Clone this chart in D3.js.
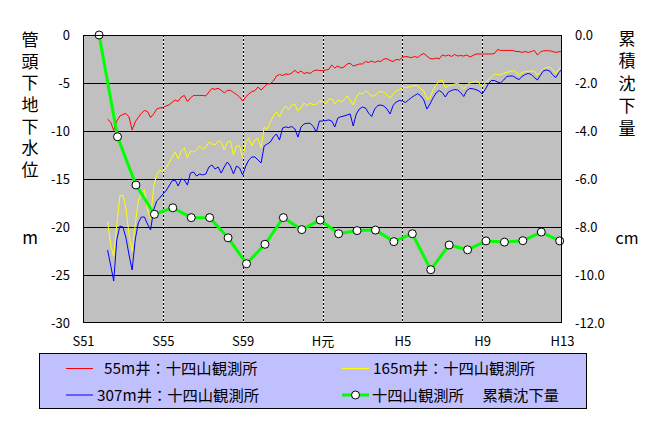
<!DOCTYPE html>
<html><head><meta charset="utf-8">
<script src="https://cdn.jsdelivr.net/npm/d3@7"></script>
<style>
html,body{margin:0;padding:0;background:#fff;}
svg text{font-family:"Noto Sans CJK JP","Noto Sans",sans-serif;}
</style></head>
<body><svg id="c" width="657" height="429"></svg>
<script>
// ---- data ----
const xTickLabels = ["S51","S55","S59","H元","H5","H9","H13"];
const lineStartMonth = 16;   // months from start of S51 axis
const lineStepMonths = 2;
const well55 = [-8.78,-9.06,-9.95,-8.96,-8.44,-8.28,-8.18,-8.54,-9.90,-9.06,
-8.59,-8.16,-7.86,-7.97,-8.59,-8.23,-7.71,-7.60,-7.55,-7.40,
-7.29,-7.03,-6.77,-6.91,-6.46,-6.30,-6.93,-6.56,-6.30,-6.30,
-6.30,-6.30,-6.35,-5.94,-5.57,-5.66,-5.55,-5.76,-6.04,-5.78,
-5.76,-5.99,-6.20,-6.46,-6.88,-6.46,-6.15,-5.89,-5.80,-5.42,
-5.73,-5.42,-5.10,-5.08,-4.79,-4.27,-4.11,-4.22,-4.06,-4.11,
-3.96,-3.68,-3.96,-3.75,-4.01,-3.91,-4.01,-3.75,-3.65,-3.70,
-3.70,-3.65,-3.59,-3.13,-3.44,-3.23,-3.44,-3.33,-3.02,-2.95,
-3.23,-3.13,-3.02,-3.02,-2.76,-2.86,-2.71,-2.86,-2.71,-2.76,
-2.50,-2.47,-2.66,-2.76,-2.55,-2.60,-2.34,-2.24,-2.29,-2.36,
-2.24,-2.34,-2.08,-1.93,-2.19,-2.45,-2.50,-2.40,-2.50,-2.08,
-2.19,-2.08,-2.24,-2.03,-2.19,-2.14,-2.19,-2.08,-2.29,-2.14,
-1.98,-1.98,-1.98,-1.98,-1.98,-1.98,-1.93,-1.51,-1.61,-1.61,
-1.61,-1.61,-1.61,-1.72,-1.72,-1.82,-1.72,-1.82,-1.72,-1.61,
-2.08,-1.77,-1.64,-1.64,-1.64,-1.72,-1.82,-1.74,-1.74];
const well165 = [-19.38,-21.88,-23.02,-19.79,-16.77,-16.67,-18.02,-20.83,-22.60,-19.79,
-17.29,-16.46,-16.15,-18.23,-19.17,-15.83,-14.58,-14.06,-14.27,-13.85,
-13.33,-12.71,-12.19,-12.92,-12.08,-11.77,-12.81,-12.08,-12.19,-11.98,
-11.56,-11.88,-11.67,-11.15,-11.35,-11.46,-11.04,-11.15,-11.98,-11.15,
-11.04,-12.50,-11.56,-11.56,-12.81,-11.15,-10.73,-11.56,-10.94,-10.78,
-11.77,-9.58,-9.79,-9.06,-8.44,-8.02,-8.54,-7.81,-7.40,-7.81,
-7.29,-7.19,-7.92,-7.60,-7.08,-7.40,-7.08,-7.29,-7.19,-6.88,
-6.88,-7.19,-6.72,-6.61,-7.19,-6.77,-6.98,-6.77,-6.35,-6.77,
-7.29,-6.46,-6.04,-6.15,-5.83,-6.04,-6.35,-6.35,-5.99,-5.89,
-5.94,-6.25,-6.56,-6.15,-5.83,-5.68,-5.52,-5.47,-5.42,-5.36,
-5.24,-5.31,-5.63,-5.83,-6.67,-6.56,-5.73,-5.21,-4.79,-4.69,
-5.47,-5.26,-5.21,-5.10,-5.03,-5.21,-5.63,-5.21,-5.00,-4.90,
-4.79,-5.00,-5.36,-5.00,-4.64,-4.38,-4.06,-4.11,-4.17,-3.96,
-3.91,-3.80,-3.70,-3.85,-4.22,-3.91,-3.82,-3.82,-3.75,-3.75,
-4.22,-3.82,-3.49,-3.39,-3.33,-3.59,-4.01,-3.54,-3.23];
const well307 = [-22.40,-23.96,-25.63,-21.35,-19.90,-20.00,-21.15,-22.92,-24.48,-21.35,
-19.58,-18.96,-18.96,-19.69,-20.31,-18.23,-17.29,-16.98,-16.56,-16.25,
-15.73,-15.21,-15.10,-15.73,-15.00,-15.10,-15.63,-14.38,-14.27,-14.69,
-14.48,-14.58,-14.48,-13.75,-13.54,-13.96,-13.75,-14.38,-13.75,-13.23,
-13.65,-14.48,-13.65,-13.85,-14.58,-13.65,-13.02,-12.71,-12.71,-13.02,
-13.33,-11.56,-11.35,-11.15,-10.63,-10.31,-10.94,-9.69,-9.58,-9.64,
-9.53,-9.79,-10.63,-9.58,-9.27,-9.20,-9.20,-9.53,-10.10,-8.96,
-8.96,-8.91,-8.85,-8.96,-9.58,-8.65,-8.51,-8.44,-8.33,-8.23,
-9.48,-8.23,-7.71,-7.50,-7.60,-8.13,-8.49,-7.71,-7.34,-7.29,
-7.40,-7.71,-8.23,-7.34,-6.98,-6.82,-6.88,-7.03,-6.77,-6.51,
-6.30,-6.11,-6.35,-6.77,-7.71,-7.19,-6.56,-6.04,-5.78,-5.99,
-6.46,-5.94,-5.78,-5.68,-5.73,-5.99,-6.41,-5.78,-5.57,-5.60,
-5.70,-5.83,-6.15,-5.68,-5.10,-4.74,-4.74,-4.90,-5.00,-4.69,
-4.32,-4.27,-4.27,-4.48,-4.64,-4.32,-4.11,-4.01,-4.11,-4.43,
-4.69,-4.17,-3.70,-3.65,-3.75,-4.17,-4.43,-3.91,-3.54];
const sinkYears = d3.range(1976, 2002);
const sinkCm = [0,-4.24,-6.25,-7.47,-7.20,-7.61,-7.61,-8.45,-9.53,-8.72,-7.61,-8.11,-7.71,
-8.28,-8.15,-8.13,-8.61,-8.28,-9.78,-8.75,-8.95,-8.58,-8.63,-8.57,-8.21,-8.58];
const leftTicks = [0,-5,-10,-15,-20,-25,-30];
const rightTicks = [0,-2,-4,-6,-8,-10,-12];
const legendLabels = ["55m井：十四山観測所","165m井：十四山観測所","307m井：十四山観測所","十四山観測所　 累積沈下量"];

// ---- layout ----
const L=83, R=562, T=35, B=323;
const svg = d3.select("#c");
const x = d3.scaleLinear().domain([0, 312]).range([L, R]);
const yL = d3.scaleLinear().domain([-30, 0]).range([B, T]);
const yR = d3.scaleLinear().domain([-12, 0]).range([B, T]);
const xTickVals = d3.range(0, 313, 52);

svg.append("rect").attr("x",L).attr("y",T).attr("width",R-L).attr("height",B-T).attr("fill","#c0c0c0");

// horizontal gridlines
svg.append("g").selectAll("line").data(leftTicks.slice(1,-1)).join("line")
  .attr("x1",L).attr("x2",R).attr("y1",d=>Math.round(yL(d))+0.5).attr("y2",d=>Math.round(yL(d))+0.5)
  .attr("stroke","#000").attr("stroke-width",1);
// vertical dotted lines
const vg = svg.append("g");
const inner = xTickVals.slice(1,-1);
vg.selectAll("line.w").data(inner).join("line").attr("class","w")
  .attr("x1",d=>Math.round(x(d))+0.5).attr("x2",d=>Math.round(x(d))+0.5).attr("y1",T).attr("y2",B)
  .attr("stroke","#fff").attr("stroke-width",1);
vg.selectAll("line.b").data(inner).join("line").attr("class","b")
  .attr("x1",d=>Math.round(x(d))+0.5).attr("x2",d=>Math.round(x(d))+0.5).attr("y1",T).attr("y2",B)
  .attr("stroke","#000").attr("stroke-width",1).attr("stroke-dasharray","2,2");

// water level lines
const lineGen = d3.line().x((d,i)=>x(lineStartMonth + i*lineStepMonths)).y(d=>yL(d));
[[well55,"#ff0000"],[well165,"#ffff00"],[well307,"#0000ff"]].forEach(([arr,c])=>{
  svg.append("path").datum(arr).attr("d",lineGen).attr("fill","none").attr("stroke",c).attr("stroke-width",1);
});

// subsidence line
const sx = yr => x((yr-1976)*12 + 10.5);
svg.append("path").datum(sinkCm).attr("d", d3.line().x((d,i)=>sx(sinkYears[i])).y(d=>yR(d)))
  .attr("fill","none").attr("stroke","#00ff00").attr("stroke-width",3);
svg.append("g").selectAll("circle").data(sinkCm).join("circle")
  .attr("cx",(d,i)=>sx(sinkYears[i])).attr("cy",d=>yR(d)).attr("r",4)
  .attr("fill","#fff").attr("stroke","#000").attr("stroke-width",1);

// frame
svg.append("rect").attr("x",L+0.5).attr("y",T+0.5).attr("width",R-L-1).attr("height",B-T-1)
  .attr("fill","none").attr("stroke","#000");

// axes
const axL = svg.append("g").attr("transform",`translate(${L},0)`)
  .call(d3.axisLeft(yL).tickValues(leftTicks).tickFormat(d=>String(d)).tickSize(0).tickPadding(13));
const axR = svg.append("g").attr("transform",`translate(${R},0)`)
  .call(d3.axisRight(yR).tickValues(rightTicks).tickFormat(d=>d.toFixed(1)).tickSize(0).tickPadding(13));
const axB = svg.append("g").attr("transform",`translate(0,${B})`)
  .call(d3.axisBottom(x).tickValues(xTickVals).tickFormat((d,i)=>xTickLabels[i]).tickSize(0).tickPadding(14));
[axL,axR,axB].forEach(a=>{
  a.select(".domain").remove();
  a.selectAll("text").attr("font-size",13).attr("fill","#000")
    .attr("font-family","'Noto Sans CJK JP',sans-serif");
});

// axis titles (vertical)
svg.append("text").attr("x",30).attr("y",31)
  .style("writing-mode","vertical-rl").style("letter-spacing","4.7px")
  .attr("font-size",17).text("管頭下地下水位");
svg.append("text").attr("x",30).attr("y",238).attr("dy","0.36em").attr("text-anchor","middle").attr("font-size",17).text("m");
svg.append("text").attr("x",627).attr("y",30)
  .style("writing-mode","vertical-rl").style("letter-spacing","5.5px")
  .attr("font-size",17).text("累積沈下量");
svg.append("text").attr("x",627).attr("y",238).attr("dy","0.36em").attr("text-anchor","middle").attr("font-size",16).text("cm");

// legend
const lg = svg.append("g");
lg.append("rect").attr("x",39.5).attr("y",353.5).attr("width",547).attr("height",55)
  .attr("fill","#c0c0ff").attr("stroke","#000");
const items = [
  {c:"#ff0000", x1:66, tx:104, y:368.5, t:legendLabels[0], mk:false, w:1},
  {c:"#ffff00", x1:342, tx:373, y:368.5, t:legendLabels[1], mk:false, w:1},
  {c:"#0000ff", x1:66, tx:97, y:395, t:legendLabels[2], mk:false, w:1},
  {c:"#00ff00", x1:342, tx:372, y:395, t:legendLabels[3], mk:true, w:3}
];
items.forEach(it=>{
  lg.append("line").attr("x1",it.x1).attr("x2",it.x1+27).attr("y1",it.y).attr("y2",it.y)
    .attr("stroke",it.c).attr("stroke-width",it.w);
  if(it.mk) lg.append("circle").attr("cx",it.x1+13.5).attr("cy",it.y).attr("r",4).attr("fill","#fff").attr("stroke","#000");
  lg.append("text").attr("x",it.tx).attr("y",it.y).attr("dy","0.36em").attr("font-size",15.3).text(it.t);
});
</script></body></html>
